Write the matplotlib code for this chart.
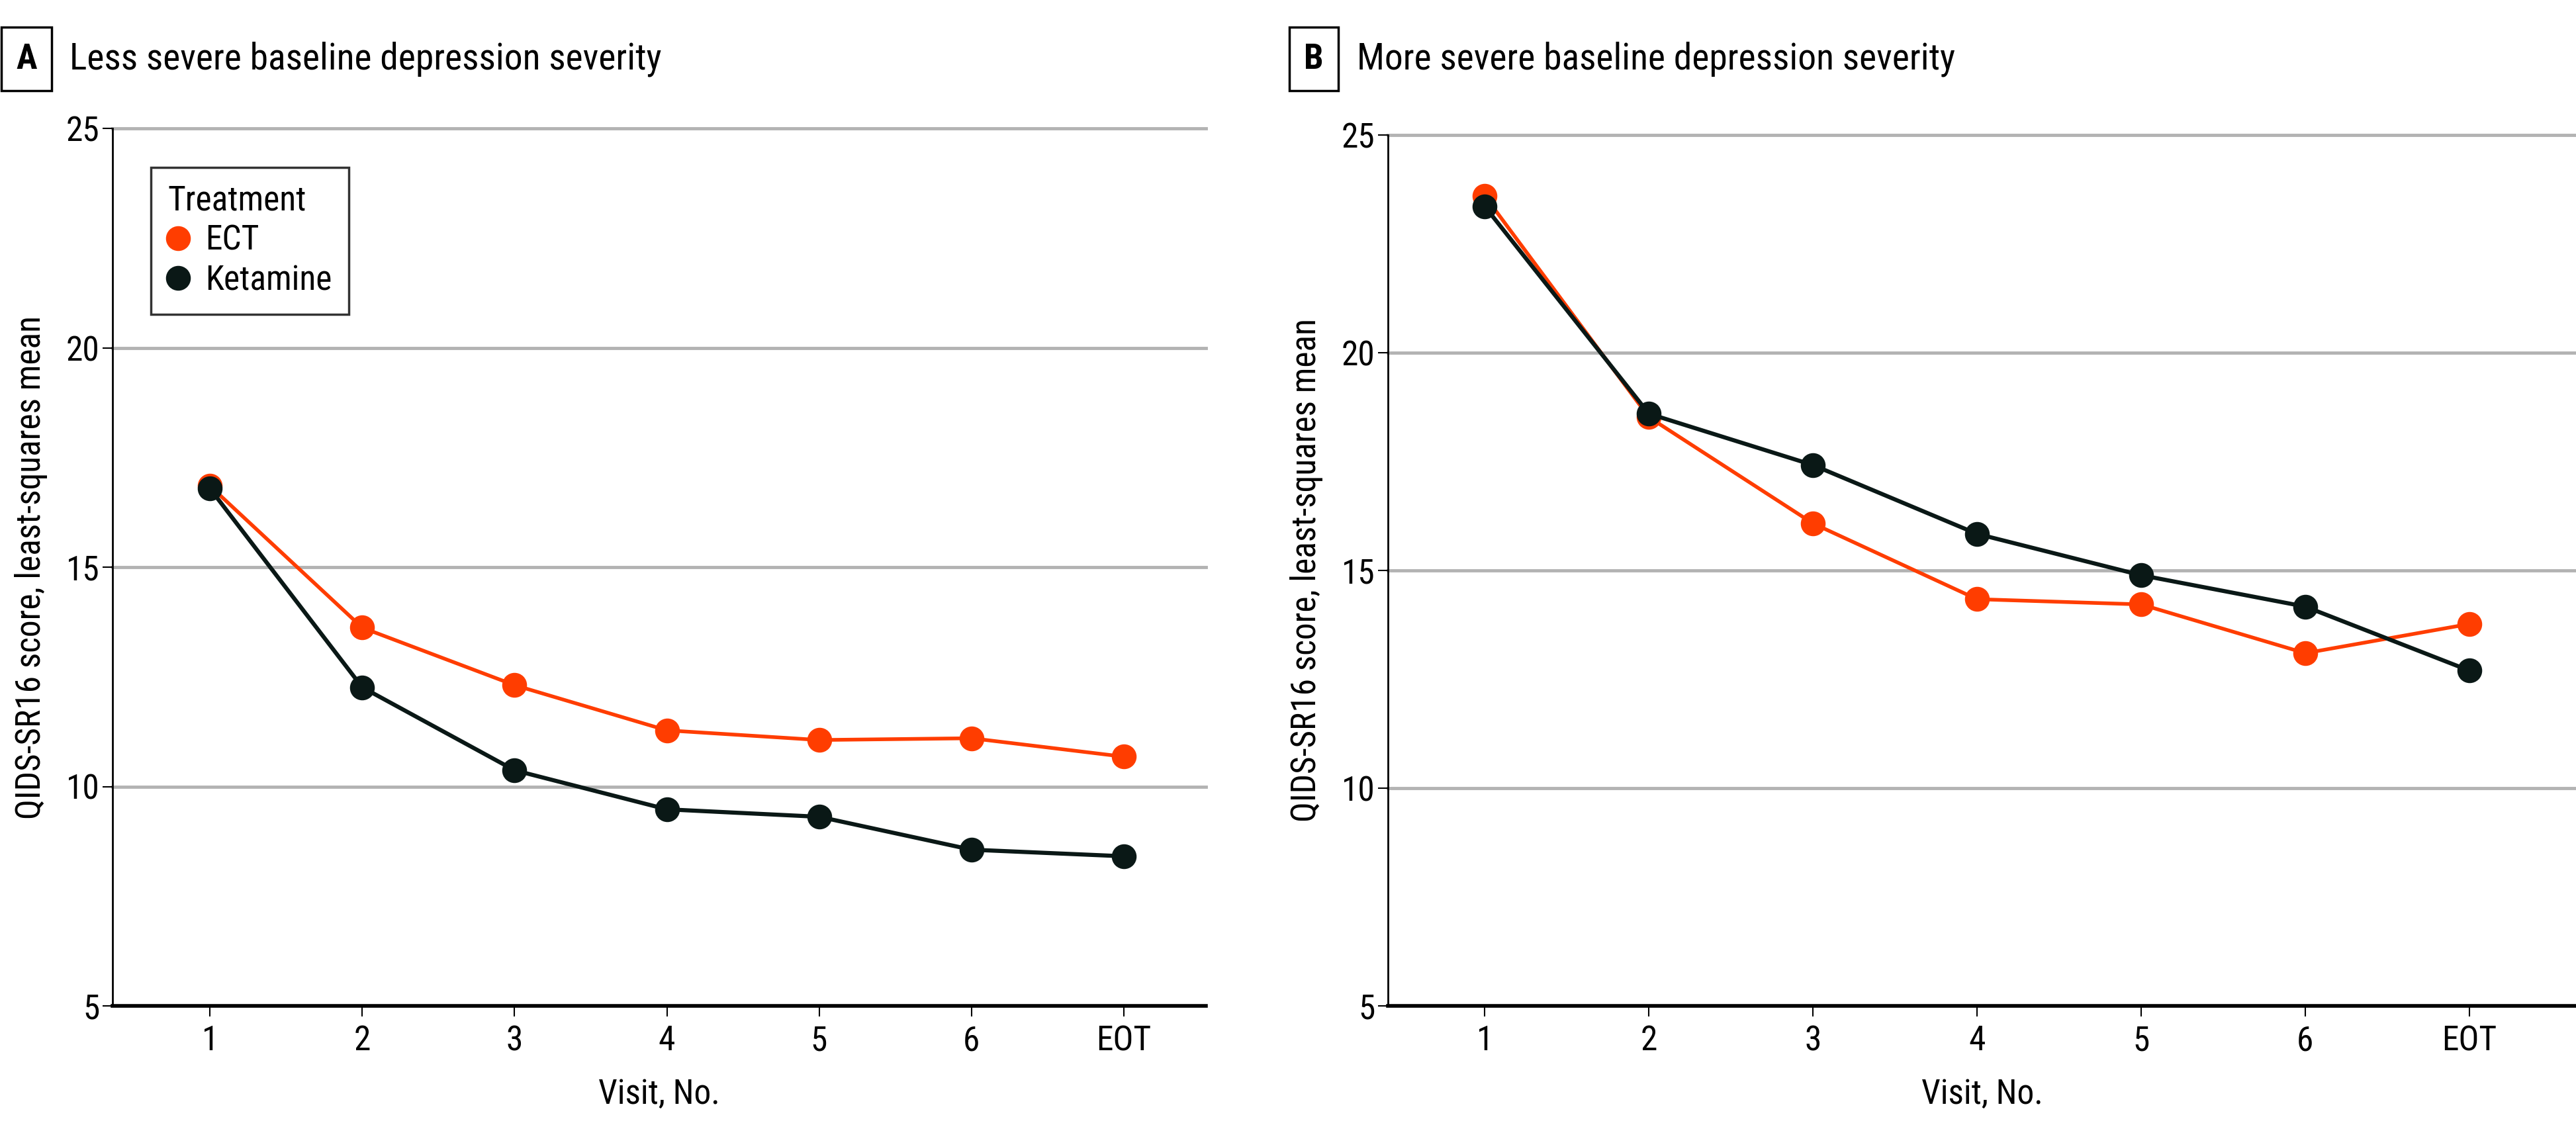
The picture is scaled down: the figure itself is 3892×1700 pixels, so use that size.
import matplotlib
matplotlib.use('Agg')
import matplotlib.pyplot as plt
from matplotlib import font_manager

# values (least-squares means)
visits = ['1', '2', '3', '4', '5', '6', 'EOT']
ect_less = [16.85, 13.62, 12.31, 11.28, 11.06, 11.10, 10.68]
ket_less = [16.79, 12.26, 10.37, 9.48, 9.31, 8.56, 8.41]
ect_more = [23.60, 18.52, 16.08, 14.34, 14.22, 13.10, 13.77]
ket_more = [23.36, 18.60, 17.42, 15.84, 14.89, 14.17, 12.70]

ORANGE = '#FF3D00'
DARK = '#0A1816'
GRID = '#B3B3B3'


def pick_font():
	for name in ['Liberation Sans Narrow', 'DejaVu Sans Condensed', 'Roboto Condensed', 'Open Sans Condensed']:
		try:
			font_manager.findfont(name, fallback_to_default=False)
			return name
		except Exception:
			pass
	return 'Liberation Sans'


FONT = pick_font()
plt.rcParams['font.family'] = [FONT, 'DejaVu Sans']

W, H = 3892, 1700
fig = plt.figure(figsize=(W / 100, H / 100), dpi=100)


def px_axes(x0, x1, ytop, ybot):
	return fig.add_axes([x0 / W, 1 - ybot / H, (x1 - x0) / W, (ybot - ytop) / H])


def draw_panel(ax, ect, ket, xlim):
	x = list(range(1, len(visits) + 1))
	ax.plot(x, ect, color=ORANGE, lw=4, marker='o', ms=26, label='ECT', zorder=3)
	ax.plot(x, ket, color=DARK, lw=4.5, marker='o', ms=26, label='Ketamine', zorder=4)
	ax.set_xlim(*xlim)
	ax.set_ylim(5, 25)
	ax.set_yticks([5, 10, 15, 20, 25])
	ax.set_xticks(x)
	ax.set_xticklabels(visits)
	for y in [10, 15, 20, 25]:
		ax.axhline(y, color=GRID, lw=3.5, zorder=1, clip_on=False)
	for s in ['top', 'right']:
		ax.spines[s].set_visible(False)
	ax.spines['left'].set_linewidth(2)
	ax.spines['bottom'].set_linewidth(4)
	ax.spines['left'].set_color('black')
	ax.tick_params(axis='y', length=11, width=1.5, pad=3, labelsize=37)
	ax.tick_params(axis='x', length=11.5, width=1.5, pad=9, labelsize=37)
	ax.set_xlabel('Visit, No.', fontsize=37, labelpad=22)
	ax.set_ylabel('QIDS-SR16 score, least-squares mean', fontsize=37, labelpad=20)


axA = px_axes(170, 1822, 194, 1520)
draw_panel(axA, ect_less, ket_less, (0.36, 7.54))
axB = px_axes(2097, 3892, 204, 1520)
draw_panel(axB, ect_more, ket_more, (0.41, 7.65))

leg = axA.legend(title='Treatment', loc='upper left', bbox_to_anchor=(58 / 1652, 1 - 59 / 1326),
	borderaxespad=0, fontsize=37, title_fontsize=37, frameon=True, fancybox=False, edgecolor='black',
	handlelength=0.6, handletextpad=0.5, borderpad=0.5, labelspacing=0.2,
	markerscale=1.0)
leg.get_frame().set_linewidth(2.5)
leg._legend_box.align = 'left'
for h in leg.get_lines():
	h.set_linestyle('none')

# panel headings
for xbox, letter, xtext, title in [(40, 'A', 105, 'Less severe baseline depression severity'),
		(1985, 'B', 2050, 'More severe baseline depression severity')]:
	fig.text(xbox / W, 1 - 89 / H, letter, fontsize=38, fontweight='bold', ha='center', va='center',
		bbox=dict(boxstyle='square,pad=0.42', fc='white', ec='black', lw=2.5))
	fig.text(xtext / W, 1 - 89 / H, title, fontsize=40, ha='left', va='center')

fig.savefig('out.png', dpi=100)
